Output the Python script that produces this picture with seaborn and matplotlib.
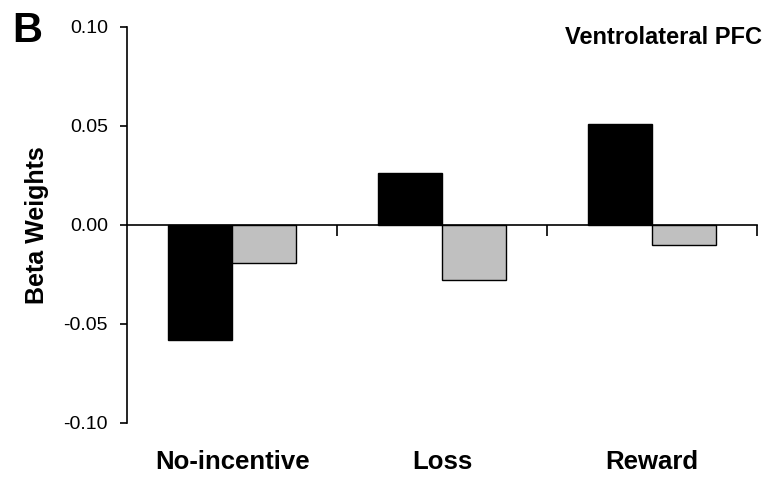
import pandas as pd
import numpy as np
import matplotlib
matplotlib.use("Agg")
import matplotlib.pyplot as plt
import seaborn as sns
from matplotlib.ticker import FormatStrFormatter

# === DATOS ===
conditions = ["No-incentive", "Loss", "Reward"]
series = ["black", "gray"]
black_vals = [-0.058, 0.026, 0.051]
gray_vals = [-0.019, -0.028, -0.010]

df = pd.DataFrame({
    "condition": conditions * 2,
    "series": [series[0]] * 3 + [series[1]] * 3,
    "beta": black_vals + gray_vals,
})

# === ESTILO ===
sns.set_style("ticks")
plt.rcParams["font.family"] = ["Liberation Sans", "DejaVu Sans"]
plt.rcParams["axes.unicode_minus"] = False
for k in ["text.color", "axes.labelcolor", "xtick.color", "ytick.color", "axes.edgecolor"]:
    plt.rcParams[k] = "black"

fig = plt.figure(figsize=(7.71, 4.8), dpi=100)
ax = fig.add_axes([0.165, 0.119, 0.817, 0.825])

sns.barplot(data=df, x="condition", y="beta", hue="series", order=conditions,
            hue_order=series, palette={"black": "#000000", "gray": "#c0c0c0"},
            width=0.61, gap=0, edgecolor="black", linewidth=1.0,
            legend=False, errorbar=None, ax=ax)

ax.set_ylim(-0.10, 0.10)
ax.set_xlim(-0.5, 2.5)
ax.set_yticks(np.arange(-0.10, 0.101, 0.05))
ax.yaxis.set_major_formatter(FormatStrFormatter("%.2f"))
ax.tick_params(axis="y", labelsize=14, length=5, width=1.2, direction="out", pad=9)

# eje x en cero con marcas entre categorias
ax.spines["bottom"].set_position(("data", 0))
ax.spines["right"].set_visible(False)
ax.spines["top"].set_visible(False)
ax.spines["left"].set_linewidth(1.2)
ax.spines["bottom"].set_linewidth(1.2)
ax.set_xticks([])
ax.set_xticks([0.5, 1.5, 2.5], minor=True)
ax.tick_params(axis="x", which="minor", length=8, width=1.2, direction="out")
ax.set_xlabel("")

for i, c in enumerate(conditions):
    ax.text(i, -0.120, c, ha="center", va="center", fontsize=18.5,
            fontweight="bold", clip_on=False)

ax.set_ylabel("Beta Weights", fontsize=18, fontweight="bold", labelpad=10)
fig.text(0.988, 0.908, "Ventrolateral PFC", ha="right", va="baseline",
         fontsize=17, fontweight="bold")
fig.text(0.016, 0.9125, "B", fontsize=30, fontweight="bold", ha="left", va="baseline")

plt.savefig("out.png", dpi=100)
